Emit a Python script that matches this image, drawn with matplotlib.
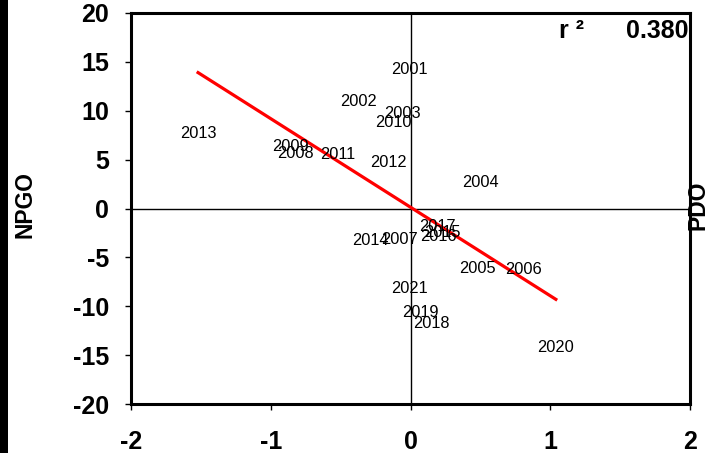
import numpy as np
import matplotlib.pyplot as plt
from matplotlib.patches import Rectangle

plt.rcParams['font.family'] = ['Liberation Sans', 'DejaVu Sans']
plt.rcParams['axes.unicode_minus'] = False

# PDO (x) vs NPGO (y) by year
years = ['2001', '2002', '2003', '2010', '2013', '2009', '2008', '2011', '2012', '2004',
         '2017', '2015', '2016', '2014', '2007', '2005', '2006', '2021', '2019', '2018', '2020']
pdo = [-0.01, -0.37, -0.06, -0.12, -1.52, -0.86, -0.82, -0.52, -0.16, 0.50,
       0.19, 0.23, 0.20, -0.29, -0.08, 0.48, 0.81, -0.01, 0.07, 0.15, 1.04]
npgo = [14.2, 10.9, 9.7, 8.8, 7.7, 6.3, 5.6, 5.5, 4.7, 2.7,
        -1.8, -2.5, -2.9, -3.3, -3.2, -6.1, -6.2, -8.2, -10.6, -11.8, -14.2]

# linear trend and its fit statistic
fit_slope = -9.06
fit_intercept = 0.13
r_squared = 0.380

x = np.array(pdo)
y = np.array(npgo)
fit_x = np.array([x.min(), x.max()])
fit_y = fit_slope * fit_x + fit_intercept

fig = plt.figure(figsize=(7.08, 4.53), dpi=100)
ax = fig.add_axes([131 / 708, 1 - 404 / 453, 559 / 708, 391 / 453])

# dark strip along the left edge
fig.patches.append(Rectangle((0, 0), 8 / 708, 1, transform=fig.transFigure,
                             facecolor='black', edgecolor='none'))

ax.axhline(0, color='black', lw=1.0, zorder=1)
ax.axvline(0, color='black', lw=1.0, zorder=1)

for yr, xi, yi in zip(years, x, y):
    ax.text(xi, yi, yr, ha='center', va='center', fontsize=11.8, zorder=3)

ax.plot(fit_x, fit_y, color='red', lw=2.3, zorder=2)

ax.set_xlim(-2, 2)
ax.set_ylim(-20, 20)
ax.set_xticks([-2, -1, 0, 1, 2])
ax.set_yticks(np.arange(-20, 21, 5))
ax.tick_params(direction='out', length=4, width=1, labelsize=18)
ax.tick_params(axis='y', pad=12)
ax.tick_params(axis='x', pad=15)
for lbl in ax.get_xticklabels() + ax.get_yticklabels():
    lbl.set_fontweight('bold')
for sp in ax.spines.values():
    sp.set_linewidth(2.2)

ax.text(0.997, 0.955, f'r \u00b2      {r_squared:.3f}', transform=ax.transAxes,
        ha='right', va='center', fontsize=18, fontweight='bold')

fig.text(25 / 708, 1 - 204 / 453, 'NPGO', rotation=90, ha='center', va='center',
         fontsize=16.5, fontweight='bold')
fig.text(686 / 708, 1 - 205 / 453, 'PDO', rotation=90, ha='left', va='center',
         fontsize=16.5, fontweight='bold')

fig.savefig('out.png', dpi=100)
